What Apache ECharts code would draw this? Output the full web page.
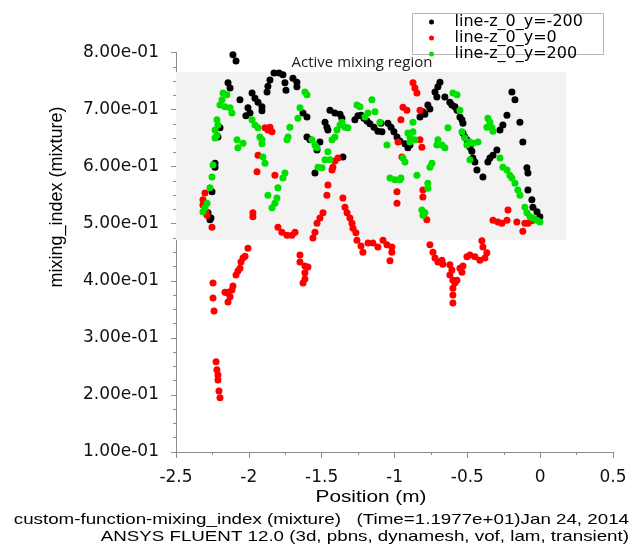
<!DOCTYPE html>
<html>
<head>
<meta charset="utf-8">
<script src="https://cdn.jsdelivr.net/npm/echarts@6/dist/echarts.min.js"></script>
<style>
html, body { margin: 0; padding: 0; background: #fff; }
#chart { width: 640px; height: 544px; }
</style>
</head>
<body>
<div id="chart"></div>
<script>
// series names as shown in the legend
const seriesNames = ['line-z_0_y=-200', 'line-z_0_y=0', 'line-z_0_y=200'];

// [position (m), mixing_index]
const blackPts = [
  [-2.109,0.796],[-2.088,0.785],[-2.143,0.747],[-2.129,0.738],[-2.061,0.717],[-1.978,0.729],[-1.958,0.720],
  [-1.937,0.713],[-1.910,0.705],[-1.910,0.698],[-2.006,0.703],[-1.992,0.694],[-2.020,0.689],[-1.875,0.731],
  [-1.869,0.741],[-1.855,0.752],[-1.827,0.764],[-1.793,0.764],[-1.766,0.761],[-1.752,0.747],[-1.745,0.734],
  [-1.697,0.755],[-1.670,0.748],[-1.670,0.740],[-1.628,0.694],[-1.601,0.687],[-1.601,0.652],[-1.580,0.647],
  [-1.532,0.629],[-1.546,0.589],[-2.212,0.652],[-2.198,0.668],[-2.232,0.606],[-2.232,0.599],[-2.253,0.556],
  [-2.280,0.519],[-2.267,0.507],[-2.260,0.510],[-1.512,0.643],[-1.477,0.678],[-1.464,0.669],[-1.457,0.664],
  [-1.443,0.699],[-1.409,0.694],[-1.374,0.692],[-1.361,0.685],[-1.354,0.617],[-1.272,0.682],[-1.251,0.689],
  [-1.230,0.690],[-1.210,0.685],[-1.189,0.680],[-1.169,0.675],[-1.141,0.669],[-1.114,0.662],[-1.093,0.676],
  [-1.086,0.661],[-1.045,0.676],[-1.024,0.669],[-1.004,0.661],[-0.983,0.652],[-0.963,0.645],[-0.928,0.640],
  [-0.908,0.633],[-0.894,0.638],[-0.825,0.687],[-0.805,0.696],[-0.771,0.708],[-0.757,0.701],[-0.791,0.692],
  [-0.722,0.731],[-0.709,0.722],[-0.688,0.748],[-0.702,0.740],[-0.654,0.722],[-0.620,0.713],[-0.606,0.708],
  [-0.585,0.705],[-0.571,0.699],[-0.551,0.687],[-0.537,0.682],[-0.530,0.676],[-0.530,0.659],[-0.517,0.652],
  [-0.503,0.647],[-0.482,0.634],[-0.469,0.627],[-0.462,0.615],[-0.448,0.608],[-0.434,0.594],[-0.393,0.582],
  [-0.359,0.608],[-0.345,0.615],[-0.324,0.620],[-0.297,0.629],[-0.276,0.664],[-0.256,0.673],[-0.228,0.690],
  [-0.194,0.731],[-0.173,0.717],[-0.139,0.678],[-0.119,0.643],[-0.091,0.598],[-0.084,0.589],[-0.084,0.559],
  [-0.057,0.542],[-0.050,0.529],[-0.022,0.521],[-0.002,0.512]
];

const redPts = [
  [-2.301,0.554],[-2.315,0.542],[-2.315,0.533],[-2.294,0.521],[-2.287,0.515],[-2.253,0.494],[-1.972,0.519],
  [-1.972,0.512],[-2.006,0.457],[-2.026,0.443],[-2.040,0.440],[-2.054,0.433],[-2.061,0.422],[-2.075,0.417],
  [-2.088,0.410],[-2.109,0.391],[-2.116,0.384],[-2.143,0.380],[-2.129,0.372],[-2.143,0.363],[-2.150,0.379],
  [-2.164,0.380],[-2.246,0.396],[-2.246,0.370],[-2.239,0.347],[-2.225,0.258],[-2.219,0.244],[-2.212,0.235],
  [-2.212,0.226],[-2.205,0.207],[-2.198,0.195],[-1.800,0.494],[-1.773,0.485],[-1.738,0.480],[-1.704,0.480],
  [-1.683,0.485],[-1.649,0.445],[-1.649,0.433],[-1.615,0.426],[-1.594,0.424],[-1.615,0.414],[-1.615,0.403],
  [-1.628,0.396],[-1.560,0.475],[-1.546,0.485],[-1.532,0.501],[-1.512,0.510],[-1.491,0.519],[-1.464,0.550],
  [-1.457,0.568],[-1.354,0.545],[-1.340,0.529],[-1.326,0.519],[-1.306,0.510],[-1.292,0.501],[-1.285,0.492],
  [-1.265,0.484],[-1.258,0.471],[-1.230,0.461],[-1.217,0.450],[-1.182,0.466],[-1.148,0.466],[-1.114,0.459],
  [-1.079,0.471],[-1.052,0.463],[-1.018,0.459],[-1.018,0.450],[-1.031,0.435],[-0.983,0.556],[-0.983,0.536],
  [-1.889,0.668],[-1.855,0.669],[-1.841,0.661],[-1.869,0.664],[-1.937,0.620],[-1.944,0.591],[-1.821,0.585],
  [-1.388,0.615],[-1.409,0.610],[-1.423,0.599],[-1.429,0.594],[-0.873,0.747],[-0.860,0.738],[-0.846,0.729],
  [-0.942,0.704],[-0.915,0.699],[-0.825,0.699],[-0.956,0.682],[-0.976,0.643],[-0.949,0.617],[-0.825,0.647],
  [-0.812,0.634],[-0.805,0.559],[-0.805,0.547],[-0.778,0.507],[-0.757,0.463],[-0.736,0.450],[-0.722,0.440],
  [-0.702,0.433],[-0.674,0.436],[-0.668,0.429],[-0.620,0.428],[-0.606,0.419],[-0.620,0.410],[-0.599,0.401],
  [-0.585,0.396],[-0.599,0.387],[-0.599,0.375],[-0.599,0.361],[-0.571,0.401],[-0.537,0.415],[-0.551,0.422],
  [-0.530,0.426],[-0.503,0.442],[-0.482,0.445],[-0.448,0.442],[-0.414,0.436],[-0.379,0.440],[-0.366,0.449],
  [-0.393,0.459],[-0.400,0.470],[-0.324,0.506],[-0.290,0.503],[-0.263,0.501],[-0.228,0.506],[-0.221,0.524],
  [-0.160,0.503],[-0.119,0.487],[-0.105,0.501],[-0.084,0.501],[-0.057,0.505]
];

const greenPts = [
  [-2.177,0.729],[-2.150,0.726],[-2.184,0.717],[-2.198,0.708],[-2.164,0.705],[-2.129,0.703],[-2.116,0.694],
  [-2.219,0.682],[-2.212,0.673],[-2.232,0.664],[-2.219,0.655],[-2.232,0.650],[-2.081,0.647],[-2.040,0.641],
  [-2.075,0.633],[-1.978,0.682],[-1.958,0.673],[-1.937,0.668],[-1.924,0.652],[-1.910,0.647],[-1.910,0.640],
  [-1.903,0.617],[-1.889,0.606],[-2.246,0.603],[-2.253,0.582],[-2.267,0.563],[-2.287,0.536],[-2.301,0.528],
  [-2.315,0.521],[-1.752,0.589],[-1.766,0.580],[-1.800,0.563],[-1.869,0.550],[-1.807,0.545],[-1.821,0.536],
  [-1.841,0.528],[-1.718,0.669],[-1.731,0.652],[-1.738,0.647],[-1.649,0.703],[-1.663,0.685],[-1.615,0.731],
  [-1.601,0.726],[-1.567,0.647],[-1.546,0.638],[-1.532,0.633],[-1.525,0.599],[-1.498,0.598],[-1.477,0.612],
  [-1.443,0.612],[-1.457,0.626],[-1.429,0.647],[-1.409,0.652],[-1.395,0.664],[-1.374,0.673],[-1.361,0.678],
  [-1.340,0.669],[-1.320,0.668],[-1.258,0.708],[-1.237,0.705],[-1.155,0.717],[-1.182,0.694],[-1.203,0.687],
  [-1.134,0.696],[-1.100,0.678],[-1.052,0.638],[-1.031,0.580],[-0.997,0.577],[-0.963,0.577],[-0.942,0.615],
  [-0.928,0.608],[-0.908,0.659],[-0.894,0.652],[-0.873,0.661],[-0.860,0.647],[-0.894,0.643],[-0.873,0.678],
  [-0.846,0.585],[-0.771,0.571],[-0.771,0.562],[-0.757,0.599],[-0.743,0.606],[-0.812,0.524],[-0.805,0.515],
  [-0.791,0.519],[-0.702,0.647],[-0.709,0.638],[-0.674,0.638],[-0.654,0.633],[-0.599,0.729],[-0.571,0.726],
  [-0.551,0.699],[-0.633,0.668],[-0.537,0.661],[-0.517,0.650],[-0.503,0.638],[-0.482,0.643],[-0.462,0.641],
  [-0.427,0.643],[-0.482,0.612],[-0.359,0.685],[-0.345,0.678],[-0.366,0.669],[-0.331,0.668],[-0.324,0.662],
  [-0.276,0.615],[-0.256,0.599],[-0.228,0.594],[-0.208,0.585],[-0.194,0.580],[-0.173,0.571],[-0.153,0.559],
  [-0.139,0.550],[-0.105,0.529],[-0.091,0.519],[-0.070,0.512],[-0.050,0.510],[-0.022,0.506],[-0.002,0.503],
  [-0.956,0.580]
];

// shaded "active mixing region"
const regionX = [-2.53, 0.177];
const regionY = [0.4715, 0.766];

const footerLines = [
  'custom-function-mixing_index (mixture)   (Time=1.1977e+01)Jan 24, 2014',
  'ANSYS FLUENT 12.0 (3d, pbns, dynamesh, vof, lam, transient)'
];

const chart = echarts.init(document.getElementById('chart'));

const fmtY = v => v.toExponential(2).replace(/e([+-])(\d)$/, (m, s, d) => 'e' + s + '0' + d);
const axisGray = '#8c8c8c';

const option = {
  animation: false,
  backgroundColor: '#ffffff',
  grid: { left: 176, right: 27, top: 52.5, bottom: 92 },
  legend: {
    data: seriesNames,
    orient: 'vertical',
    left: 412,
    top: 13,
    padding: [1, 20, 1, 17],
    itemGap: 0,
    itemWidth: 36,
    itemHeight: 5,
    icon: 'circle',
    textStyle: { fontFamily: 'DejaVu Sans', fontSize: 16, lineHeight: 13.5, color: '#000' }
  },
  xAxis: {
    type: 'value',
    min: -2.5,
    max: 0.5,
    interval: 0.5,
    splitLine: { show: false },
    axisLine: { onZero: false, lineStyle: { color: axisGray } },
    axisTick: { length: 6, lineStyle: { color: axisGray } },
    minorTick: { show: true, splitNumber: 2, length: 3, lineStyle: { color: axisGray } },
    axisLabel: { fontFamily: 'DejaVu Sans', fontSize: 17, color: '#111', margin: 17 }
  },
  yAxis: {
    type: 'value',
    min: 0.1,
    max: 0.8,
    interval: 0.1,
    splitLine: { show: false },
    axisLine: { show: true, onZero: false, lineStyle: { color: axisGray } },
    axisTick: { show: true, length: 5, lineStyle: { color: axisGray } },
    minorTick: { show: true, splitNumber: 4, length: 3, lineStyle: { color: axisGray } },
    axisLabel: { fontFamily: 'DejaVu Sans', fontSize: 17, color: '#111', margin: 17, formatter: fmtY }
  },
  graphic: [
    {
      type: 'rect', z: 0,
      shape: { x: 412.5, y: 13.5, width: 191, height: 41 },
      style: { fill: '#ffffff', stroke: '#b4b4b4', lineWidth: 1 }
    },
    {
      type: 'text', x: 57, y: 197, rotation: Math.PI / 2,
      style: { text: 'mixing_index (mixture)', fontFamily: 'Liberation Sans', fontSize: 18, fill: '#000',
        align: 'center', verticalAlign: 'middle', textAlign: 'center', textVerticalAlign: 'middle' }
    },
    {
      type: 'text', x: 371, y: 498, scaleX: 1.3,
      style: { text: 'Position (m)', fontFamily: 'Liberation Sans', fontSize: 16, fill: '#000',
        align: 'center', verticalAlign: 'middle', textAlign: 'center', textVerticalAlign: 'middle' }
    },
    {
      type: 'text', x: 629, y: 520, scaleX: 1.25,
      style: { text: footerLines[0], fontFamily: 'Liberation Sans', fontSize: 15, fill: '#000',
        align: 'right', verticalAlign: 'middle', textAlign: 'right', textVerticalAlign: 'middle' }
    },
    {
      type: 'text', x: 629, y: 537, scaleX: 1.25,
      style: { text: footerLines[1], fontFamily: 'Liberation Sans', fontSize: 15, fill: '#000',
        align: 'right', verticalAlign: 'middle', textAlign: 'right', textVerticalAlign: 'middle' }
    }
  ],
  series: [
    {
      type: 'scatter',
      name: 'region',
      data: [],
      z: 1,
      clip: false,
      silent: true,
      markArea: {
        silent: true,
        itemStyle: { color: '#f2f2f2' },
        label: {
          show: true, position: 'top', distance: 2, offset: [-9, 0],
          fontFamily: 'Open Sans', fontSize: 15, color: '#222'
        },
        data: [[
          { name: 'Active mixing region', coord: [regionX[0], regionY[1]] },
          { coord: [regionX[1], regionY[0]] }
        ]]
      }
    },
    { type: 'scatter', name: seriesNames[0], data: blackPts, symbolSize: 7, z: 2, itemStyle: { color: '#000000', opacity: 1 } },
    { type: 'scatter', name: seriesNames[1], data: redPts, symbolSize: 7, z: 2, itemStyle: { color: '#ff0000', opacity: 1 } },
    { type: 'scatter', name: seriesNames[2], data: greenPts, symbolSize: 7, z: 2, itemStyle: { color: '#00e000', opacity: 1 } }
  ]
};

chart.setOption(option);
</script>
</body>
</html>
